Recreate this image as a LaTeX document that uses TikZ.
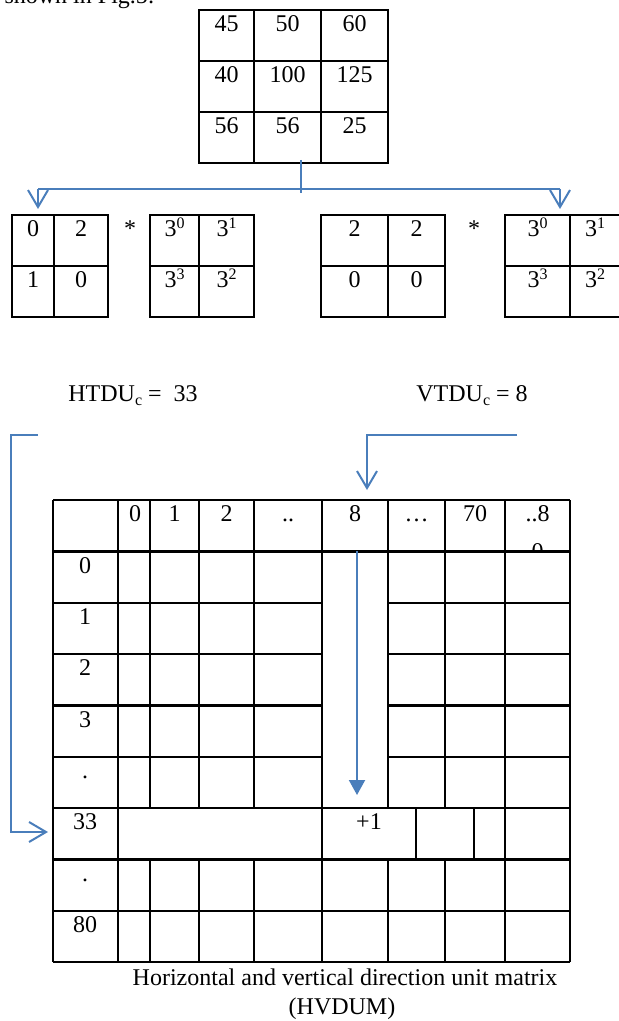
\documentclass[tikz,border=0pt]{standalone}
\usepackage{fontspec}
\setmainfont{Liberation Serif}
\usetikzlibrary{arrows.meta}
\definecolor{lineblue}{RGB}{74,126,187}
\newcommand{\supx}[1]{\raisebox{0.36em}{\fontsize{8pt}{8pt}\selectfont #1}}
\newcommand{\subx}[1]{\raisebox{-0.14em}{\fontsize{8pt}{8pt}\selectfont #1}}
\begin{document}
\begin{tikzpicture}[x=0.5pt,y=-0.5pt,
  every node/.style={font=\fontsize{12pt}{14pt}\selectfont},
  gridline/.style={line width=1.2pt,black},
  link/.style={line width=1pt,lineblue},
  openhead/.style={-{Straight Barb[length=8.5pt,width=10pt]}},
  filledhead/.style={-{Triangle[length=7.5pt,width=8pt]}},
  cellt/.style={anchor=base,inner sep=0pt},
  label/.style={anchor=base west,inner sep=0pt}]
\useasboundingbox (0,0) rectangle (618,1021);

% fragment of running text
\node[anchor=base east,inner sep=0pt] (fig) at (155,3.5) {shown in Fig.5:};

% ---------- top 3x3 matrix ----------
\draw[gridline] (199,10) rectangle (388,163);
\foreach \x in {254,321} \draw[gridline] (\x,10) -- (\x,163);
\foreach \y in {61,112} \draw[gridline] (199,\y) -- (388,\y);
\foreach \x/\a/\b/\c [count=\i] in {226.5/45/40/56,287.5/50/100/56,354.5/60/125/25}{
  \node[cellt] (ta\i) at (\x,31.7) {\a};
  \node[cellt] (tb\i) at (\x,82.7) {\b};
  \node[cellt] (tc\i) at (\x,133.7) {\c};
}

% ---------- split connector ----------
\coordinate (stemA) at (301,160);
\coordinate (stemB) at (301,193);
\coordinate (barL) at (38,189);
\coordinate (barR) at (560,189);
\coordinate (tipL) at (38,209);
\coordinate (tipR) at (560,209);
\draw[link] (stemA) -- (stemB);
\draw[link] (barL) -- (barR);
\draw[link,openhead] (barL) -- (tipL);
\draw[link,openhead] (barR) -- (tipR);

% ---------- small 2x2 matrices ----------
\foreach \xa/\xb/\xc in {12/54/108,150/199/254,321/388/445,505/570/620}{
  \draw[gridline] (\xa,215) rectangle (\xc,317);
  \draw[gridline] (\xb,215) -- (\xb,317);
  \draw[gridline] (\xa,266) -- (\xc,266);
}
\node[cellt] (m1a) at (33,236.7) {0};
\node[cellt] (m1b) at (81,236.7) {2};
\node[cellt] (m1c) at (33,287.7) {1};
\node[cellt] (m1d) at (81,287.7) {0};
\node[cellt] (star1) at (130,236.7) {*};
\node[cellt] (m2a) at (174.5,236.7) {3\supx{0}};
\node[cellt] (m2b) at (226.5,236.7) {3\supx{1}};
\node[cellt] (m2c) at (174.5,287.7) {3\supx{3}};
\node[cellt] (m2d) at (226.5,287.7) {3\supx{2}};
\node[cellt] (m3a) at (354.5,236.7) {2};
\node[cellt] (m3b) at (416.5,236.7) {2};
\node[cellt] (m3c) at (354.5,287.7) {0};
\node[cellt] (m3d) at (416.5,287.7) {0};
\node[cellt] (star2) at (474,236.7) {*};
\node[cellt] (m4a) at (537.5,236.7) {3\supx{0}};
\node[cellt] (m4b) at (595,236.7) {3\supx{1}};
\node[cellt] (m4c) at (537.5,287.7) {3\supx{3}};
\node[cellt] (m4d) at (595,287.7) {3\supx{2}};

% ---------- labels ----------
\node[label] (htdu) at (68,401.7) {HTDU\subx{c} =\ \ 33};
\node[label] (vtdu) at (416,401.7) {VTDU\subx{c} = 8};

% ---------- big matrix ----------
\foreach \y in {500,551.3,808,859.3,910.7,962} \draw[gridline] (53,\y) -- (570,\y);
\foreach \y in {602.7,654,705.3,756.7}{
  \draw[gridline] (53,\y) -- (322,\y);
  \draw[gridline] (388,\y) -- (570,\y);
}
\foreach \x in {53,118,150,199,254,322,388,445,505,570}{
  \draw[gridline] (\x,500) -- (\x,808);
  \draw[gridline] (\x,859.3) -- (\x,962);
}
\foreach \x in {53,118,322,416,474,505,570} \draw[gridline] (\x,808) -- (\x,859.3);

% header texts
\foreach \x/\t [count=\i] in {135/0,174.5/1,226.5/2,288/..,355/8,416.5/…,475/70,537.5/..8}
  \node[cellt] (h\i) at (\x,521.7) {\t};
\begin{scope}
  \clip (505,500) rectangle (570,551.3);
  \node[cellt] (h9) at (537.5,559) {0};
\end{scope}
% row labels
\foreach \y/\t [count=\i] in {551.3/0,602.7/1,654/2,705.3/3,756.7/.,808/33,859.3/.,910.7/80}
  \node[cellt] (r\i) at (85,\y+21.7) {\t};
\node[cellt] (plus) at (369,829.7) {+1};

% ---------- connectors into the big matrix ----------
\coordinate (vA) at (517,435);
\coordinate (vB) at (367,435);
\coordinate (vC) at (367,490);
\draw[link,openhead] (vA) -- (vB) -- (vC);
\coordinate (hA) at (38,435);
\coordinate (hB) at (11,435);
\coordinate (hC) at (11,832);
\coordinate (hD) at (48,832);
\draw[link,openhead] (hA) -- (hB) -- (hC) -- (hD);
\coordinate (dA) at (357,551.3);
\coordinate (dB) at (357,795);
\draw[link,filledhead] (dA) -- (dB);

% ---------- caption ----------
\node[cellt] (cap1) at (345,985) {Horizontal and vertical direction unit matrix};
\node[cellt] (cap2) at (342,1014) {(HVDUM)};
\end{tikzpicture}
\end{document}
